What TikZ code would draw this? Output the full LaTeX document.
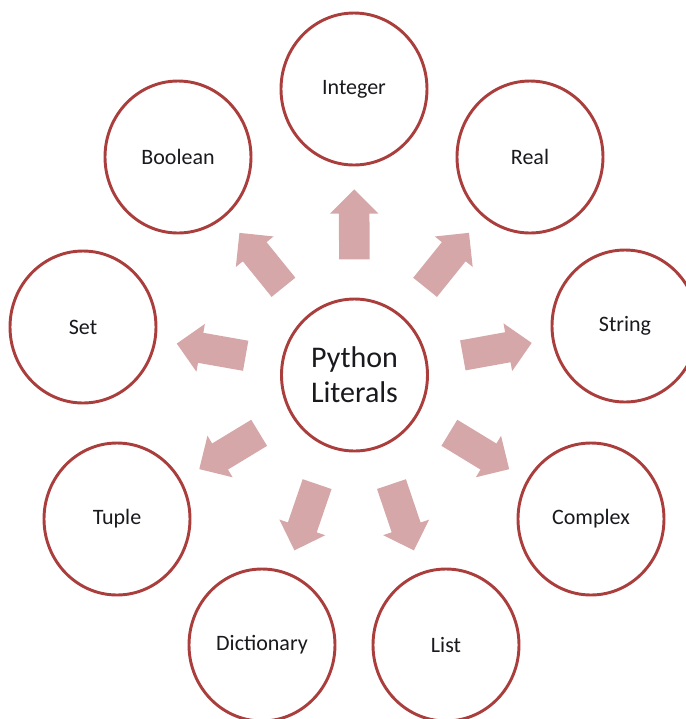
\documentclass[tikz,border=0pt]{standalone}
\usepackage{fontspec}
\setmainfont{Carlito}
\usetikzlibrary{shapes.geometric,shapes.arrows}

\definecolor{ringred}{RGB}{170,62,60}
\definecolor{arrowpink}{RGB}{214,167,168}
\definecolor{labeltext}{RGB}{25,25,30}

\tikzset{
  bubble/.style={ellipse, draw=ringred, line width=2.2pt, fill=white,
    minimum width=109.5pt, minimum height=114pt, inner sep=0pt,
    text=labeltext, font=\fontsize{16.5}{19}\selectfont},
  hub/.style={bubble, align=center, font=\fontsize{22.5}{26}\selectfont},
  blockarrow/.style={single arrow, fill=arrowpink, draw=none,
    midway, sloped, allow upside down,
    inner xsep=0pt, inner ysep=11.25pt, outer sep=0pt,
    single arrow head extend=6.75pt, single arrow tip angle=90,
    minimum height=52.5pt}
}

\begin{document}
\begin{tikzpicture}[x=0.75pt, y=-0.75pt]
  \useasboundingbox (0,0) rectangle (686,719);

  % central literal hub
  \node[hub] (c) at (354.5,375) {Python\\Literals};

  % literal kinds around the hub
  \node[bubble] (int)  at (354,89)  {Integer};
  \node[bubble] (real) at (530,157) {Real};
  \node[bubble] (str)  at (625,326) {String};
  \node[bubble] (cpx)  at (591,519) {Complex};
  \node[bubble] (lst)  at (446,645) {List};
  \node[bubble] (dict) at (262,645) {Dictionary};
  \node[bubble] (tup)  at (117,519) {Tuple};
  \node[bubble] (set)  at (83,327)  {Set};
  \node[bubble] (bool) at (178,157) {Boolean};

  % block arrows from the hub outwards
  \foreach \t in {int,real,str,cpx,lst,dict,tup,set,bool}
    \path (c.center) -- (\t.center) node[blockarrow] {};
\end{tikzpicture}
\end{document}
